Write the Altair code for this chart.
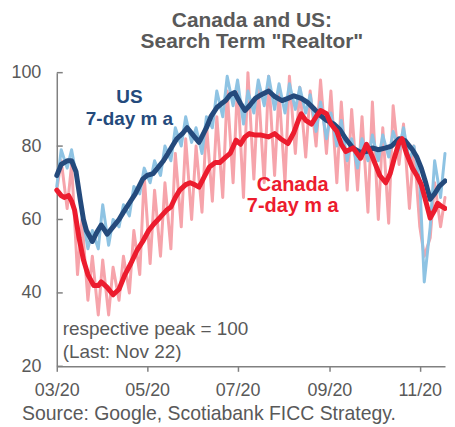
import altair as alt
import pandas as pd

BASE = "2020-03-01"

US_MA_DAYS = [0,3,7,10,13,16,18,20,24,27,30,34,38,42,45,49,53,58,61,65,68,72,75,78,81,85,88,92,96,101,104,108,111,114,117,120,124,127,130,134,138,143,147,152,156,160,165,169,174,178,182,187,191,195,200,205,209,213,217,222,226,231,235,240,243,246,249,252,255,258,262]
US_MA = [72,75,76,76,73,65,60,57,54,56.5,58.5,56,58,60,62,64.5,67,71,72,72.5,74,76,78,80,82,83.5,85,83,81,85,88,90.5,91.5,92.4,94,94.6,91.6,89.7,91,93,94,95,93.5,92.4,93,93.7,93,92,90,88.3,87,86,84.5,82,79.4,78.3,78.5,79.5,79,79.5,80,82,81.5,79,77,74,70,65.5,67,69,70.5]

CA_MA_DAYS = [0,3,5,8,10,12,15,18,21,25,28,30,34,38,42,46,50,54,58,62,66,70,74,77,80,83,87,90,93,96,100,103,107,110,114,117,121,124,127,130,134,138,143,147,151,156,160,163,165,168,172,175,178,182,185,189,192,195,200,205,209,212,215,218,222,225,228,231,233,236,240,243,246,249,252,255,257,260,262]
CA_MA = [68,66.5,66,66.5,65,62.6,55,49,45,42,42,43,41.5,39.5,41,45,48,51.5,54,57,59,60.7,62.5,63.4,66,68,69.5,70,69.5,68.8,72,74.3,75.5,75.5,77,78,81.6,80.5,82.5,83.4,83,83,82.5,83.4,82,80.7,83.7,87,88.8,87,86,88,89.7,88.8,86,84,80.5,78.5,79.5,76.7,80.5,78,75,72,70,72.5,77,81,82,78,74,72,69.5,65,60.4,62.5,64.4,63.5,63]

DAILY_DAYS = [0,3,7,10,14,17,21,24,28,31,35,38,42,45,49,52,56,59,63,66,70,73,77,80,84,87,91,94,98,101,105,108,112,115,119,122,126,129,133,136,140,143,147,150,154,157,161,164,168,171,175,178,182,185,189,192,196,199,203,206,210,213,217,220,224,227,231,234,238,241,245,248,252,255,259,262]
US_DAILY = [69,79,74,79,70,62,52,57,52,64,53,60,58,64,61,69,67,74,70,76,72,80,76,85,80,88,81,85,78,88,85,95,88,99,91,98,86,95,89,98,91,99,90,97,89,97,90,96,89,94,84,92,82,89,80,87,76,82,74,82,76,83,76,83,77,84,79,85,76,80,70,43,58,76,66,78]
CA_DAILY = [68,76,63,75,45,60,38,50,34,49,34,47,38,50,40,57,45,72,48,68,50,70,52,78,58,82,60,80,62,86,65,88,66,95,70,97,66,100,71,96,70,99,72,95,70,99,78,96,77,95,80,98,78,95,70,92,68,90,68,88,62,92,60,85,59,91,75,86,63,80,58,50,55,70,58,66]

Y_TICKS = [20, 40, 60, 80, 100]
X_TICK_MONTHS = [3, 5, 7, 9, 11]

TITLE_1 = "Canada and US:"
TITLE_2 = 'Search Term "Realtor"'
SOURCE = "Source: Google, Scotiabank FICC  Strategy."
NOTE_1 = "respective peak = 100"
NOTE_2 = "(Last: Nov 22)"
US_LABEL = ["US", "7-day m a"]
CA_LABEL = ["Canada", "7-day m a"]

FONT = "Liberation Sans"
GRAY = "#595959"
AXIS_GRAY = "#808080"
US_DARK = "#244a7c"
US_LIGHT = "#8ec3e3"
CA_DARK = "#ec1c2e"
CA_LIGHT = "#f6a4ab"


def frame(days, vals):
    return pd.DataFrame({
        "date": pd.Timestamp(BASE) + pd.to_timedelta(days, unit="D"),
        "value": vals,
    })


x_enc = alt.X(
    "date:T",
    scale=alt.Scale(domain=[alt.DateTime(year=2020, month=3, date=1),
                            alt.DateTime(year=2020, month=11, date=18)]),
    axis=alt.Axis(
        values=[alt.DateTime(year=2020, month=m, date=1) for m in X_TICK_MONTHS],
        format="%m/%y", title=None, grid=False,
        labelFont=FONT, labelFontSize=18, labelColor=GRAY, labelPadding=10,
        tickSize=5, tickColor=AXIS_GRAY, tickWidth=1.5,
        domainColor=AXIS_GRAY, domainWidth=1.5, labelFlush=False,
    ),
)
y_enc = alt.Y(
    "value:Q",
    scale=alt.Scale(domain=[20, 100], nice=False, zero=False),
    axis=alt.Axis(
        values=Y_TICKS, title=None, grid=False, ticks=False,
        labelFont=FONT, labelFontSize=18, labelColor=GRAY, labelPadding=16,
        domainColor=AXIS_GRAY, domainWidth=1.5,
    ),
)


def line(days, vals, color, width):
    return alt.Chart(frame(days, vals)).mark_line(
        color=color, strokeWidth=width, strokeJoin="round", strokeCap="round"
    ).encode(x=x_enc, y=y_enc)


ticks = alt.Chart(pd.DataFrame({"value": Y_TICKS})).mark_rule(
    color=AXIS_GRAY, strokeWidth=1.5
).encode(y=y_enc, x=alt.value(0), x2=alt.value(6))


def label(txt, x, y, color=GRAY, size=18, bold=False, align="center"):
    return alt.Chart(pd.DataFrame({"t": [txt]})).mark_text(
        font=FONT, fontSize=size, fontWeight="bold" if bold else "normal",
        color=color, align=align, baseline="middle",
    ).encode(text="t:N", x=alt.value(x), y=alt.value(y))


chart = alt.layer(
    line(DAILY_DAYS, CA_DAILY, CA_LIGHT, 3),
    line(DAILY_DAYS, US_DAILY, US_LIGHT, 3),
    line(US_MA_DAYS, US_MA, US_DARK, 5),
    line(CA_MA_DAYS, CA_MA, CA_DARK, 5),
    ticks,
    label(TITLE_1, 196, -52, bold=True, size=21),
    label(TITLE_2, 196, -31, bold=True, size=21),
    label(US_LABEL[0], 73, 24, color=US_DARK, bold=True, size=19),
    label(US_LABEL[1], 73, 47, color=US_DARK, bold=True, size=19),
    label(CA_LABEL[0], 237, 113, color=CA_DARK, bold=True, size=20),
    label(CA_LABEL[1], 237, 134, color=CA_DARK, bold=True, size=20),
    label(NOTE_1, 6, 258, align="left", size=19),
    label(NOTE_2, 6, 281, align="left", size=19),
    label(SOURCE, -35, 343, align="left", size=19.5),
).properties(
    width=390, height=295,
    autosize=alt.AutoSizeParams(type="none"),
    padding={"left": 49, "top": 64, "right": 2, "bottom": 62},
).configure_view(stroke=None)

chart.save("out.html", embed_options={"renderer": "svg", "actions": False})
